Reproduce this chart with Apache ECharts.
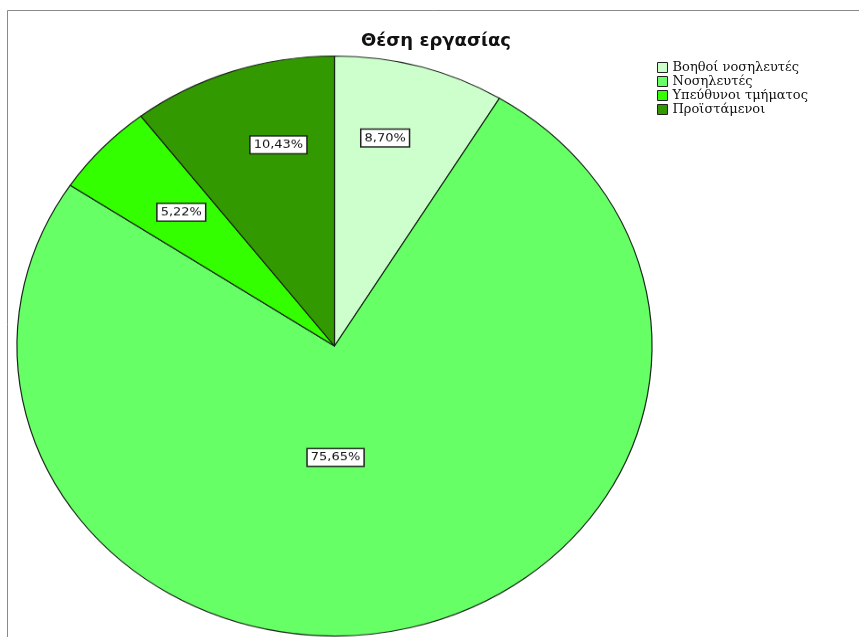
<!DOCTYPE html>
<html>
<head>
<meta charset="utf-8">
<script src="https://cdn.jsdelivr.net/npm/echarts@6/dist/echarts.min.js"></script>
<style>
  html, body { margin: 0; padding: 0; background: #fff; }
  #wrap { position: relative; width: 859px; height: 637px; overflow: hidden; }
  #base { position: absolute; left: 0; top: 0; width: 859px; height: 637px; }
  /* the pie is drawn as an ellipse: flatten its layer vertically around the pie centre */
  #pie { position: absolute; left: 0; top: 0; width: 859px; height: 720px;
         transform-origin: 334.5px 346px; transform: scaleY(0.9134); }
</style>
</head>
<body>
<div id="wrap">
  <div id="base"></div>
  <div id="pie"></div>
</div>
<script>
// Θέση εργασίας — respondents by job position (n = 115)
const chartTitle = 'Θέση εργασίας';
const categories = ['Βοηθοί νοσηλευτές', 'Νοσηλευτές', 'Υπεύθυνοι τμήματος', 'Προϊστάμενοι'];
const counts = [10, 87, 6, 12];

// styling
const sliceColors = ['#ccffcc', '#66ff66', '#33ff00', '#339900'];
const labelOffsets = [[7, -72], [-34, -36], [-35, -36], [-4, -67]];
const edgeColor = '#1a261a';

const pieData = categories.map((name, i) => ({
  name: name,
  value: counts[i],
  itemStyle: { color: sliceColors[i] },
  label: { offset: labelOffsets[i] }
}));

const fmtPercent = p => p.percent.toFixed(2).replace('.', ',') + '%';

// layer with frame, title and legend
const base = echarts.init(document.getElementById('base'), null, { renderer: 'canvas' });
base.setOption({
  animation: false,
  backgroundColor: '#ffffff',
  graphic: [{
    type: 'rect',
    shape: { x: 7.5, y: 10.5, width: 900, height: 700 },
    style: { fill: 'none', stroke: '#8a8a8a', lineWidth: 1 },
    silent: true
  }],
  title: {
    text: chartTitle,
    left: 356,
    top: 27,
    textStyle: { fontFamily: 'DejaVu Sans', fontWeight: 'bold', fontSize: 18, color: '#111' }
  },
  legend: {
    orient: 'vertical',
    left: 657,
    top: 61,
    padding: 0,
    itemWidth: 10,
    itemHeight: 10,
    itemGap: 1,
    icon: 'rect',
    selectedMode: false,
    data: categories,
    itemStyle: { borderColor: '#222', borderWidth: 1 },
    textStyle: { fontFamily: 'DejaVu Serif', fontSize: 13, color: '#111' }
  },
  series: [{
    type: 'pie',
    radius: 0,
    center: [334.5, 346],
    silent: true,
    label: { show: false },
    labelLine: { show: false },
    data: categories.map((name, i) => ({ name: name, value: counts[i], itemStyle: { color: sliceColors[i] } }))
  }]
});

// pie layer
const pie = echarts.init(document.getElementById('pie'), null, { renderer: 'canvas' });
pie.setOption({
  animation: false,
  backgroundColor: 'transparent',
  series: [{
    type: 'pie',
    center: [334.5, 346],
    radius: 317.5,
    startAngle: 90,
    clockwise: true,
    silent: true,
    itemStyle: { borderColor: edgeColor, borderWidth: 1.2 },
    label: {
      show: true,
      position: 'inside',
      formatter: fmtPercent,
      fontFamily: 'DejaVu Sans',
      fontSize: 13,
      color: '#111',
      backgroundColor: '#ffffff',
      borderColor: '#222',
      borderWidth: 1.5,
      padding: [3, 3, 2, 3]
    },
    labelLine: { show: false },
    emphasis: { disabled: true },
    data: pieData
  }]
});
</script>
</body>
</html>
